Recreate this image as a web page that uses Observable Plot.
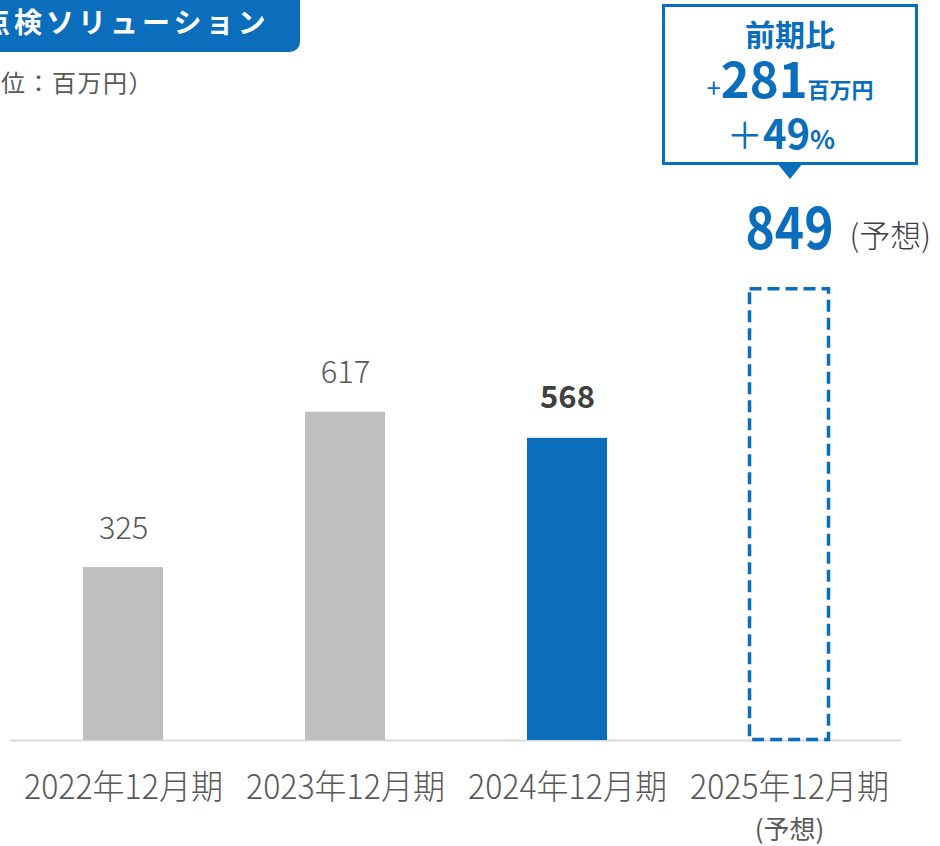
<!DOCTYPE html>
<html><head><meta charset="utf-8">
<script src="https://cdn.jsdelivr.net/npm/d3@7"></script>
<script src="https://cdn.jsdelivr.net/npm/@observablehq/plot@0.6"></script>
<style>
body{margin:0;background:#fff;font-family:"Noto Sans CJK JP",sans-serif;}
#wrap{position:relative;width:940px;height:846px;overflow:hidden;}
#chart{position:absolute;left:0;top:0;}
.title{position:absolute;left:-40px;top:0;width:340px;height:52px;background:#0a6ebd;border-radius:0 0 10px 0;color:#fff;font-weight:700;font-size:28px;line-height:42px;letter-spacing:4px;padding-left:22px;box-sizing:border-box;white-space:nowrap;}
.unit{position:absolute;left:-50px;top:67px;font-size:24px;line-height:30px;color:#595959;white-space:nowrap;letter-spacing:1.5px;}
.callout{position:absolute;left:662px;top:4px;width:256px;height:161px;border:3px solid #0a6ebd;box-sizing:border-box;background:#fff;color:#0a6ebd;text-align:center;}
.callout .l{position:absolute;left:0;right:0;white-space:nowrap;font-weight:700;}
.tri{position:absolute;left:777px;top:163px;width:0;height:0;border-left:13px solid transparent;border-right:13px solid transparent;border-top:16px solid #0a6ebd;}
</style>
</head><body>
<div id="wrap">
<div id="chart"></div>
<div class="title">点検ソリューション</div>
<div class="unit">（単位：百万円）</div>
<div class="callout">
  <div class="l" style="top:8px;font-size:30px;line-height:36px;">前期比</div>
  <div class="l" style="top:44px;line-height:52px;"><span style="font-size:26px;font-weight:400;">+</span><span style="font-size:49px;">281</span><span style="font-size:22px;">百万円</span></div>
  <div class="l" style="top:102px;line-height:46px;padding-right:18px;"><span style="font-size:36px;font-weight:400;">＋</span><span style="font-size:40px;">49</span><span style="font-size:26px;">%</span></div>
</div>
<div class="tri"></div>
</div>
<script>
const periods = ["2022年12月期", "2023年12月期", "2024年12月期", "2025年12月期"];
const values = [325, 617, 568, 849];
const kinds = ["past", "past", "current", "forecast"];
const forecastNote = "(予想)";

const blue = "#0a6ebd";
const data = periods.map((p, i) => ({period: p, value: values[i], kind: kinds[i]}));
const solid = data.filter(d => d.kind !== "forecast");
const fc = data.filter(d => d.kind === "forecast");
const font = "Noto Sans CJK JP";

const chart = Plot.plot({
  width: 940,
  height: 846,
  marginTop: 0,
  marginBottom: 106,
  marginLeft: 10,
  marginRight: 39,
  style: {fontFamily: font, background: "#fff"},
  x: {domain: periods, paddingInner: 0.64, paddingOuter: 0.32, axis: null},
  y: {domain: [0, 1391], axis: null},
  color: {domain: ["past", "current"], range: ["#bfbfbf", blue]},
  marks: [
    Plot.ruleY([0], {stroke: "#d9d9d9", strokeWidth: 2}),
    Plot.barY(solid, {x: "period", y: "value", fill: "kind"}),
    Plot.barY(fc, {x: "period", y: "value", fill: "none", stroke: blue, strokeWidth: 3.5, strokeDasharray: "12,6", inset: 0.5}),
    Plot.text(data.filter(d => d.kind === "past"), {x: "period", y: "value", text: d => String(d.value), dy: -39, lineAnchor: "middle", fontSize: 31, fontWeight: 300, fill: "#595959"}),
    Plot.text(data.filter(d => d.kind === "current"), {x: "period", y: "value", text: d => String(d.value), dy: -40, lineAnchor: "middle", fontSize: 31, fontWeight: 700, fill: "#404040"}),
    Plot.text(fc, {x: "period", y: "value", text: d => String(d.value), dy: -58, lineAnchor: "middle", fontSize: 58, fontWeight: 700, fill: blue}),
    Plot.text(fc, {x: "period", y: "value", text: () => forecastNote, dy: -52, dx: 60, textAnchor: "start", lineAnchor: "middle", fontSize: 31, fontWeight: 300, fill: "#404040"}),
    Plot.text(data, {x: "period", y: () => 0, text: "period", dy: 48, lineAnchor: "middle", fontSize: 34, fontWeight: 300, fill: "#595959"}),
    Plot.text(fc, {x: "period", y: () => 0, text: () => forecastNote, dy: 90, lineAnchor: "middle", fontSize: 26, fill: "#595959"})
  ]
});
document.getElementById("chart").appendChild(chart);
chart.querySelectorAll("text").forEach(t => {
  const s = t.textContent;
  if (periods.includes(s)) {
    t.setAttribute("textLength", "199");
    t.setAttribute("lengthAdjust", "spacingAndGlyphs");
  } else if (s === String(values[3])) {
    t.setAttribute("textLength", "88");
    t.setAttribute("lengthAdjust", "spacingAndGlyphs");
  }
});
</script>
</body></html>
